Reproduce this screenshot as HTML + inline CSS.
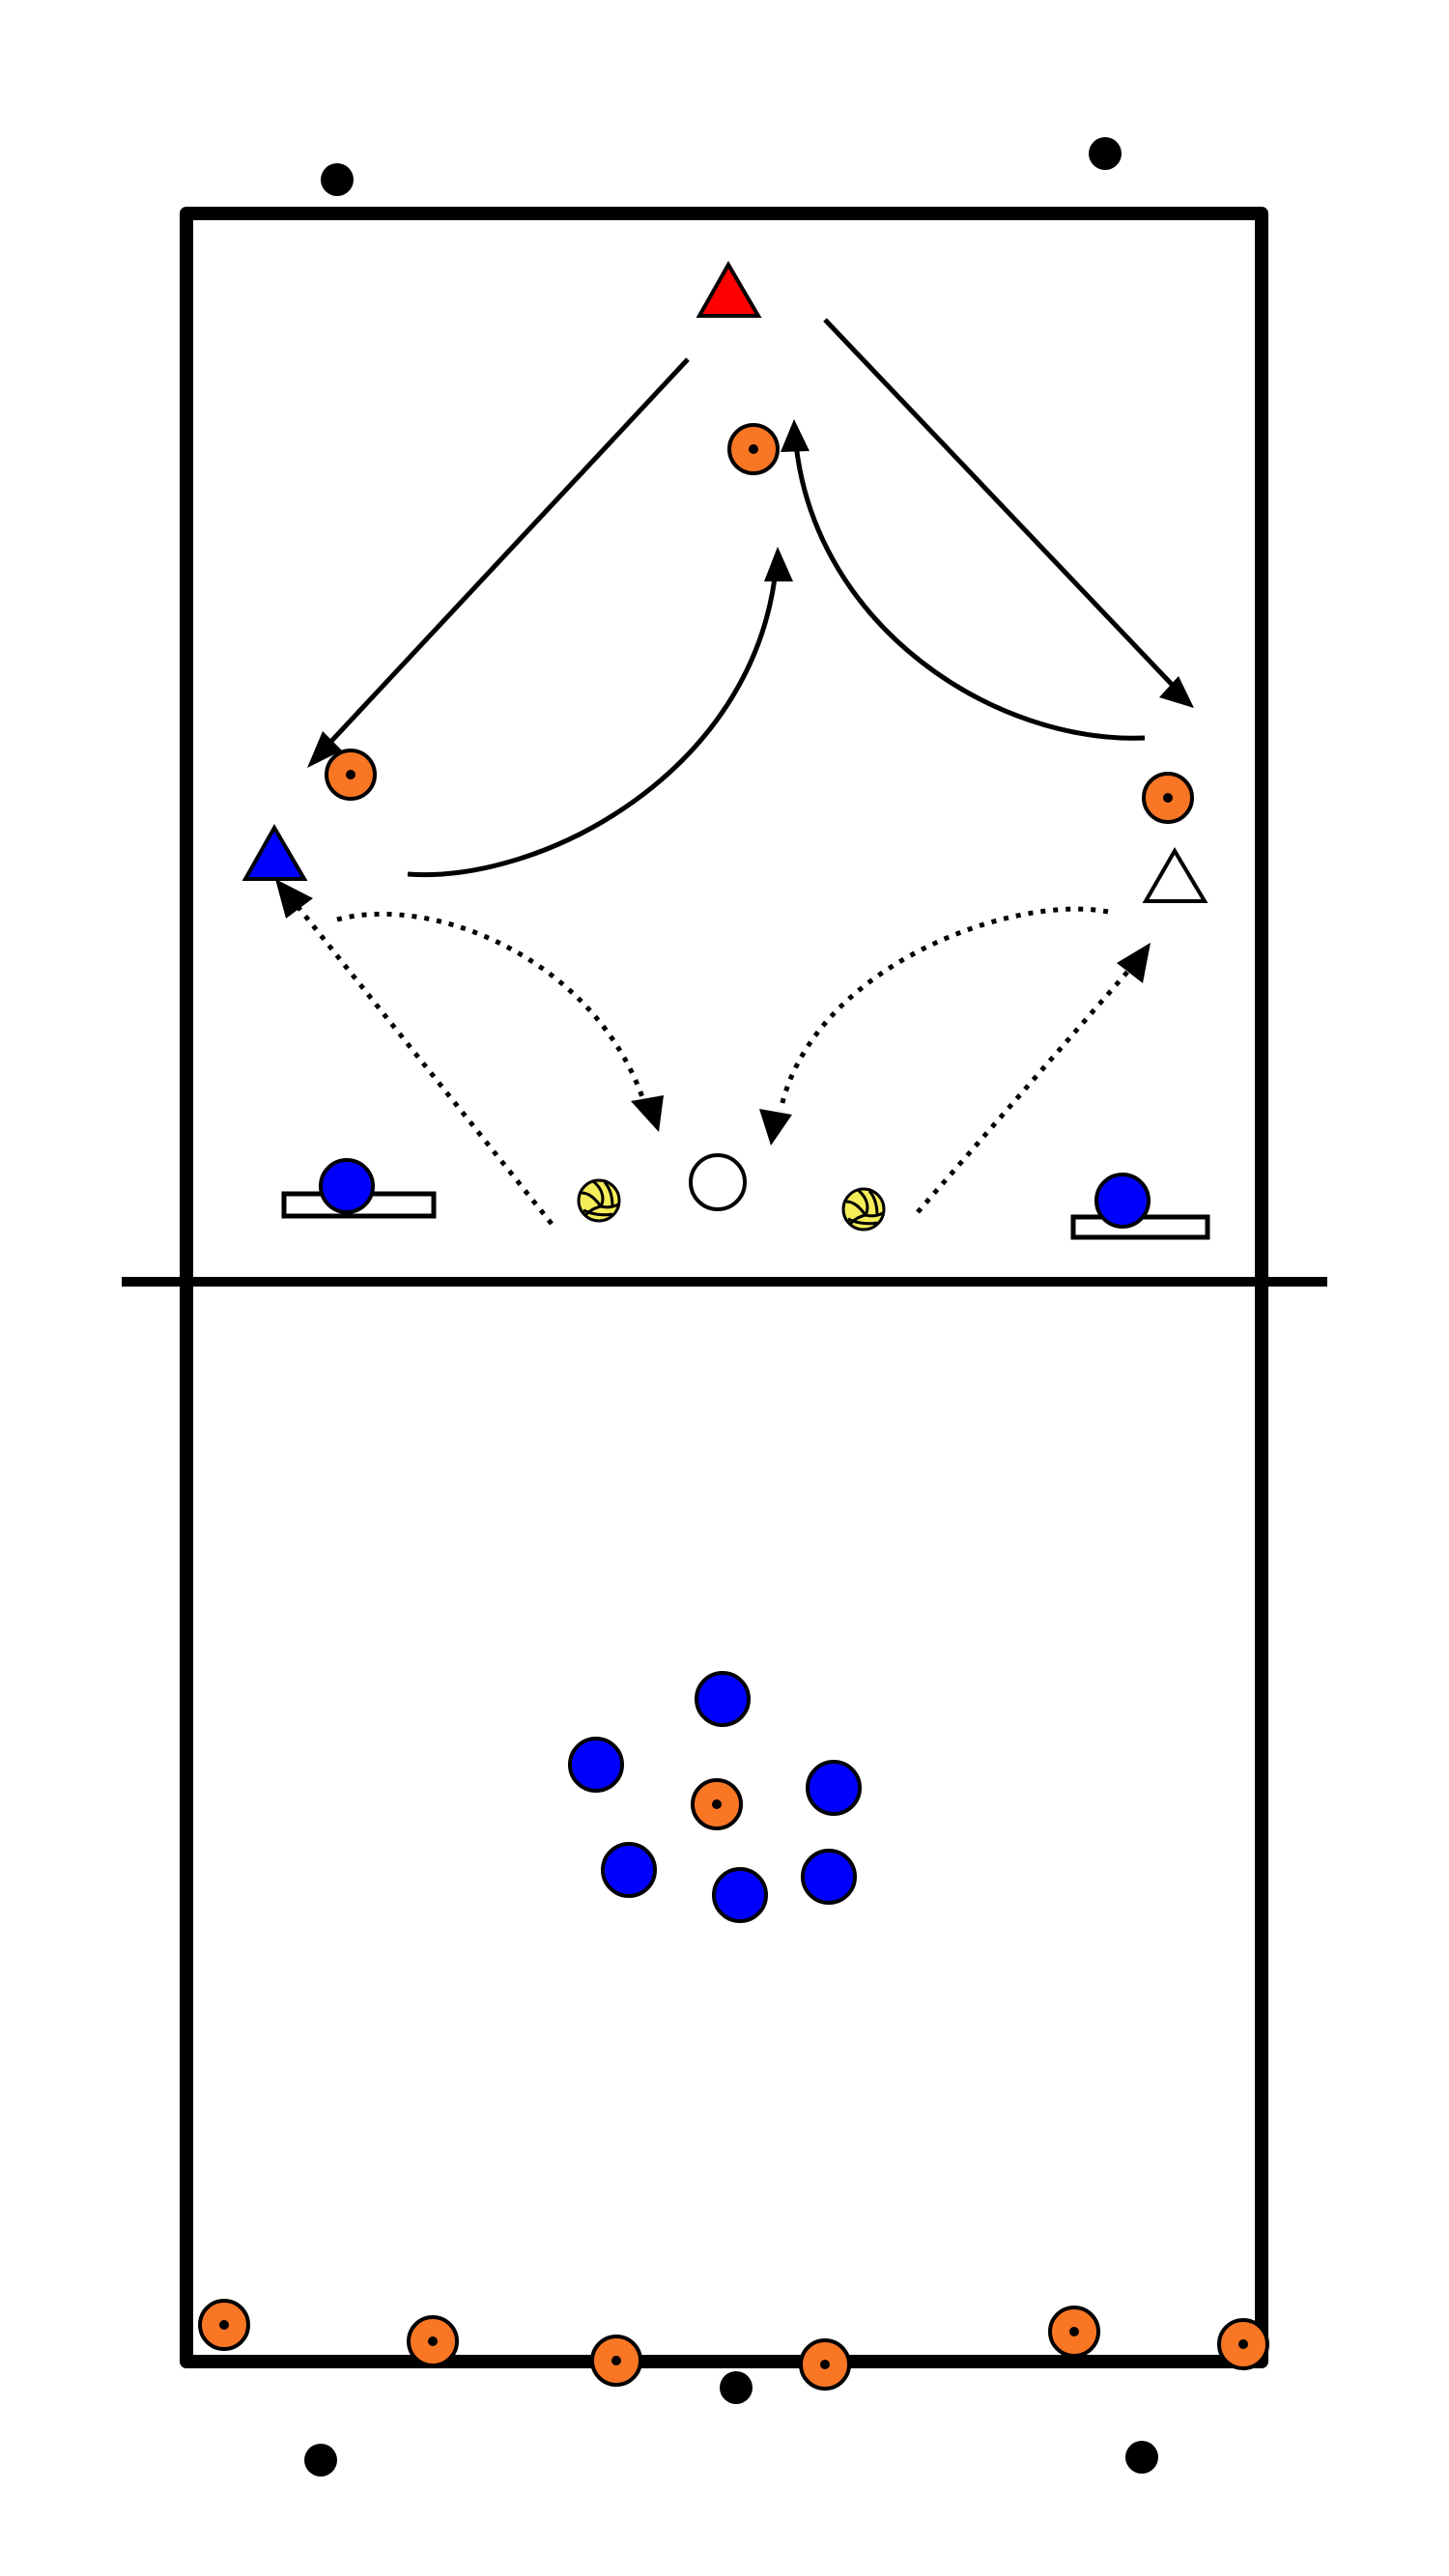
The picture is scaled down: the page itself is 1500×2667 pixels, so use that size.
<!DOCTYPE html>
<html><head><meta charset="utf-8"><style>html,body{margin:0;padding:0;background:#fff}svg{display:block}</style></head>
<body>
<svg width="1500" height="2667" viewBox="0 0 1500 2667" xmlns="http://www.w3.org/2000/svg">
<defs>
<g id="ball">
<circle r="21" fill="#f5ee5a" stroke="#000" stroke-width="3"/>
<path d="M-6,-20 C4,-12 6,-2 2,6 M2,6 C10,8 16,6 20,4 M2,6 C-6,8 -12,12 -14,16 M-18,-8 C-10,-8 -4,-2 2,6 M6,-19 C12,-12 14,-4 14,6 M-16,10 C-8,14 4,16 14,14" fill="none" stroke="#000" stroke-width="3"/>
</g>
<g id="orange"><circle r="25" fill="#f97625" stroke="#000" stroke-width="4"/><circle r="5" fill="#000"/></g>
<g id="blue"><circle r="27" fill="#0000ff" stroke="#000" stroke-width="4"/></g>
</defs>
<path d="M193,221 H1306 V2445 H193 Z" fill="none" stroke="#000" stroke-width="14" stroke-linejoin="round"/>
<line x1="126" y1="1327" x2="1374" y2="1327" stroke="#000" stroke-width="10"/>
<circle cx="349" cy="186" r="17"/><circle cx="1144" cy="159" r="17"/>
<circle cx="762" cy="2472" r="17"/><circle cx="332" cy="2547" r="17"/><circle cx="1182" cy="2544" r="17"/>
<polygon points="754,274 724,327 785,327" fill="#ff0000" stroke="#000" stroke-width="4"/>
<polygon points="284,857 254,910 315,910" fill="#0000ff" stroke="#000" stroke-width="4"/>
<polygon points="1216,881 1186,933 1247,933" fill="#fff" stroke="#000" stroke-width="4"/>
<g fill="none" stroke="#000" stroke-width="5">
<line x1="712" y1="372" x2="334" y2="777"/>
<line x1="854" y1="331" x2="1222" y2="718"/>
<path d="M422,905 C560,915 780,800 803,590"/>
<path d="M1185,764 C1030,770 845,650 824,460"/>
</g>
<g fill="none" stroke="#000" stroke-width="5" stroke-dasharray="5,8">
<line x1="571" y1="1267" x2="303" y2="932"/>
<path d="M349,952 C450,925 620,995 668,1145"/>
<path d="M1147,944 C1050,925 840,1000 808,1150"/>
<line x1="950" y1="1255" x2="1176" y2="996"/>
</g>
<g fill="#000">
<polygon points="318,795 334,757 354,777"/>
<polygon points="1236,733 1200,722 1220,700"/>
<polygon points="805,566 791,602 821,602"/>
<polygon points="822,434 808,468 838,467"/>
<polygon points="285,910 296,951 324,930"/>
<polygon points="682,1172 653,1140 687,1134"/>
<polygon points="798,1186 786,1148 820,1154"/>
<polygon points="1191,976 1183,1018 1156,997"/>
</g>
<use href="#orange" x="780" y="465"/>
<use href="#orange" x="363" y="802"/>
<use href="#orange" x="1209" y="826"/>
<circle cx="743" cy="1224" r="28" fill="#fff" stroke="#000" stroke-width="4"/>
<use href="#ball" x="620" y="1243"/>
<use href="#ball" x="894" y="1252"/>
<rect x="294" y="1236" width="155" height="23" fill="#fff" stroke="#000" stroke-width="5"/>
<use href="#blue" x="359" y="1228"/>
<rect x="1111" y="1260" width="139" height="21" fill="#fff" stroke="#000" stroke-width="5"/>
<use href="#blue" x="1162" y="1243"/>
<use href="#blue" x="748" y="1759"/>
<use href="#blue" x="617" y="1827"/>
<use href="#blue" x="863" y="1851"/>
<use href="#orange" x="742" y="1868"/>
<use href="#blue" x="651" y="1936"/>
<use href="#blue" x="766" y="1962"/>
<use href="#blue" x="858" y="1943"/>
<use href="#orange" x="232" y="2407"/>
<use href="#orange" x="448" y="2424"/>
<use href="#orange" x="638" y="2444"/>
<use href="#orange" x="854" y="2448"/>
<use href="#orange" x="1112" y="2414"/>
<use href="#orange" x="1287" y="2427"/>
</svg>
</body></html>
